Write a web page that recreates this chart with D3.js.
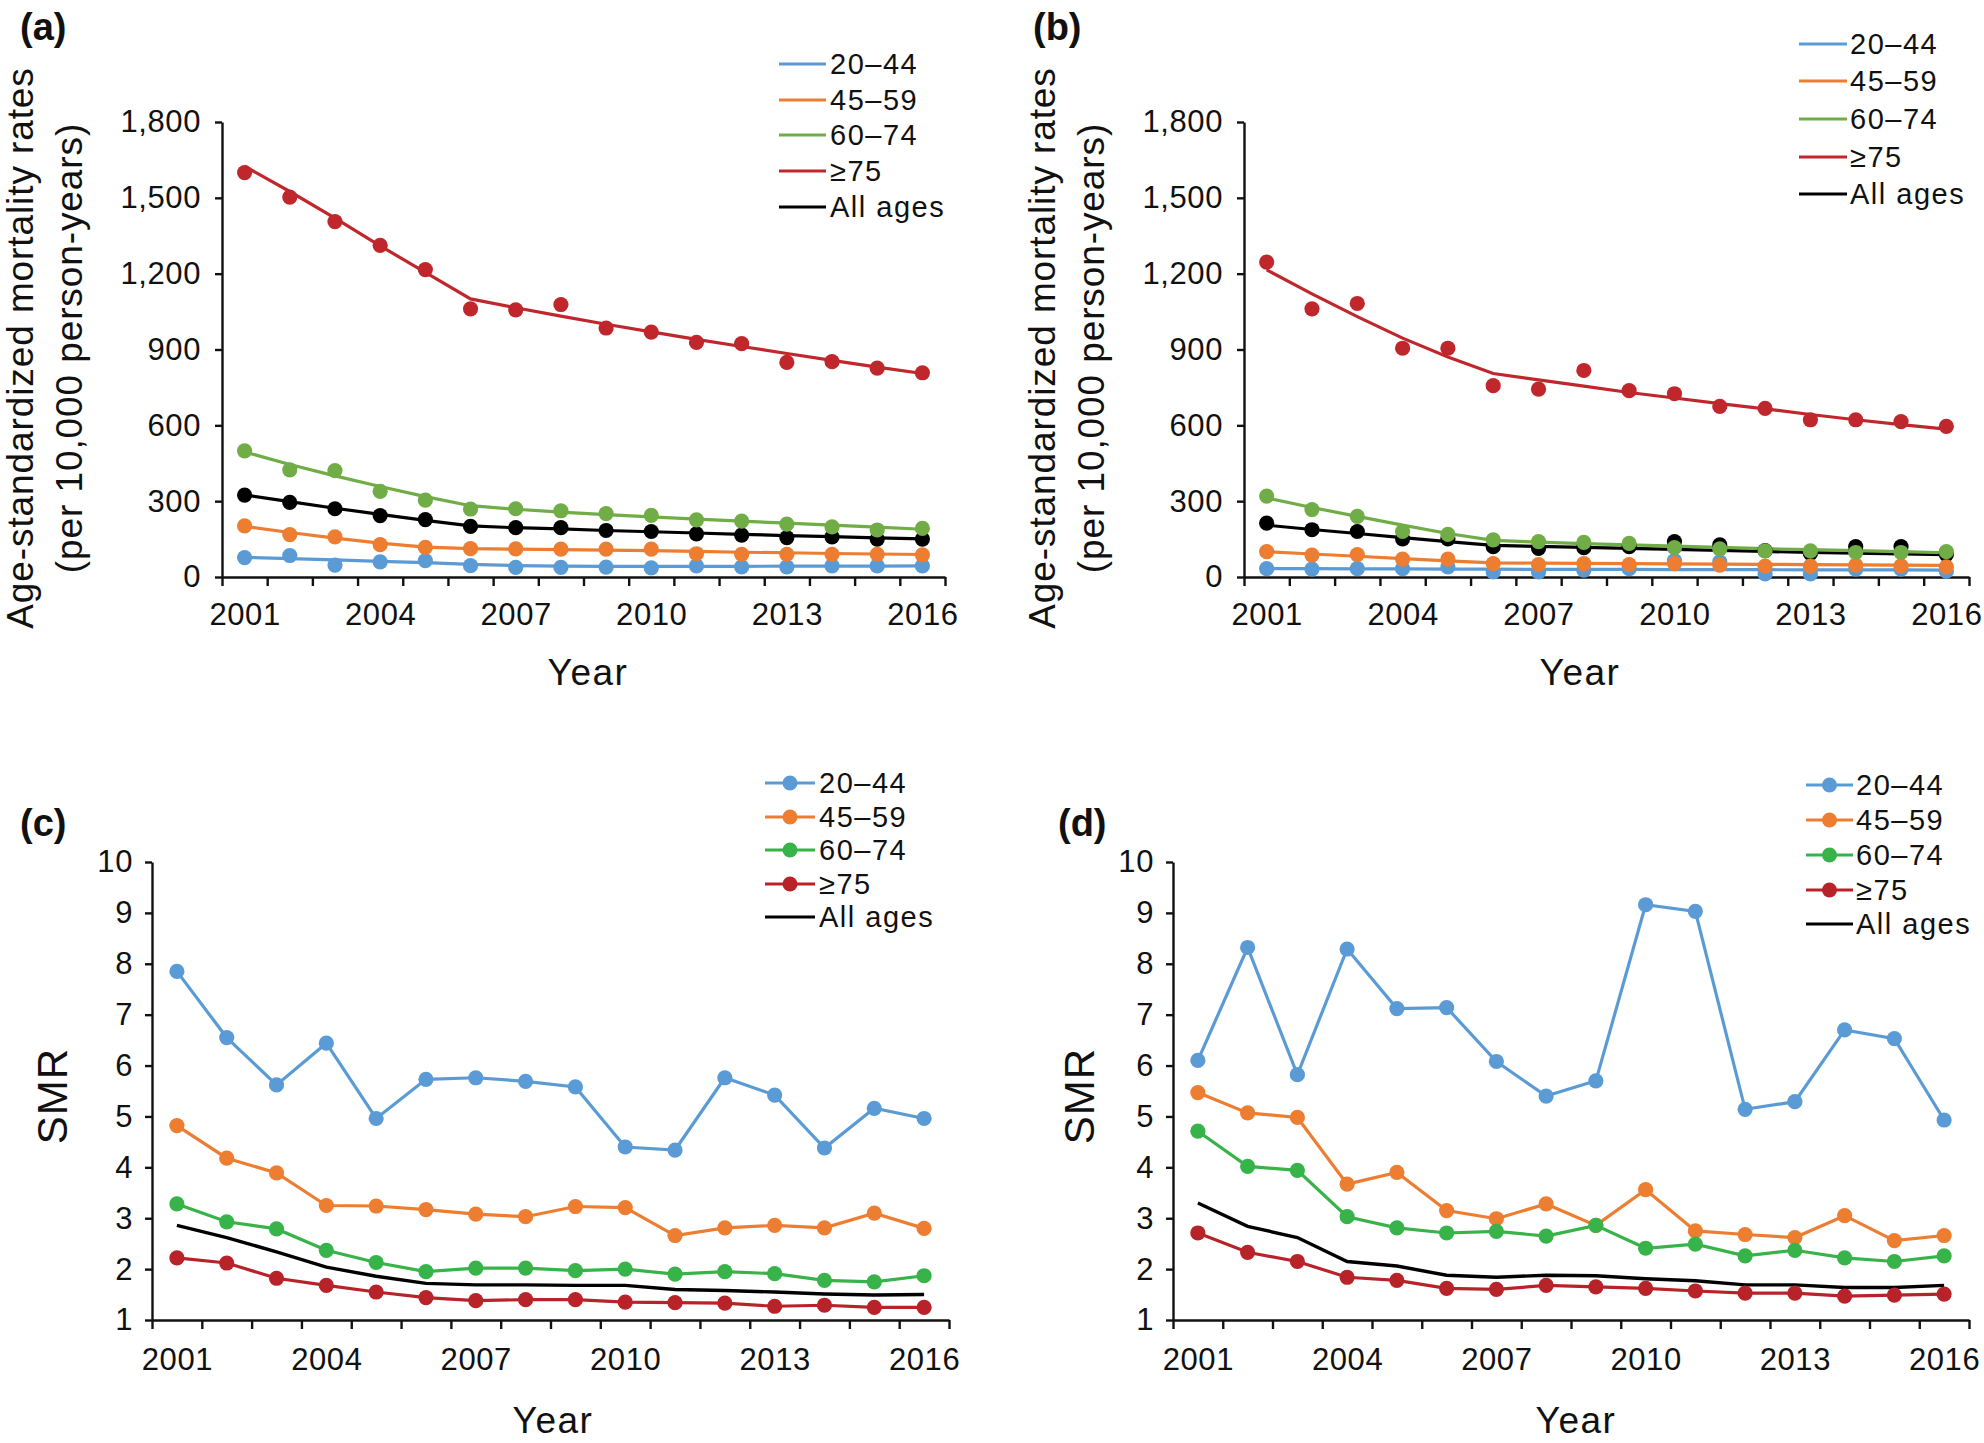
<!DOCTYPE html>
<html><head><meta charset="utf-8">
<script src="https://cdn.jsdelivr.net/npm/d3@7/dist/d3.min.js"></script>
<style>
html,body{margin:0;padding:0;background:#fff;}
svg text{font-family:"Liberation Sans",Arial,Helvetica,sans-serif;fill:#111;}
</style></head>
<body><svg id="c" width="1984" height="1443"></svg>
<script>
// ---------- data ----------
const years = [2001,2002,2003,2004,2005,2006,2007,2008,2009,2010,2011,2012,2013,2014,2015,2016];
const yearLabels = [2001,2004,2007,2010,2013,2016];
const seriesNames = ["20\u201344","45\u201359","60\u201374","\u226575","All ages"];
const rateTicks = [0,300,600,900,1200,1500,1800];
const smrTicks = [1,2,3,4,5,6,7,8,9,10];

// Panel (a): observed rates (dots) and fitted trends (lines)
const aDots2044 = [77,85,47,60,65,45,38,38,39,36,44,40,40,44,44,44];
const aFit2044  = [78,73,68,62,57,50,45,43,42,42,42,42,43,43,43,44];
const aDots4559 = [202,168,159,128,117,112,111,110,110,110,92,90,90,90,90,88];
const aFit4559  = [200,176,154,134,118,112,110,108,106,104,101,98,96,93,91,89];
const aDots6074 = [499,424,421,339,304,269,270,262,251,244,226,221,209,198,186,192];
const aFit6074  = [495,445,400,358,318,282,268,257,247,238,229,221,213,205,197,189];
const aDots75   = [1600,1503,1406,1312,1216,1061,1057,1078,985,969,928,923,849,852,826,808];
const aFit75    = [1625,1525,1420,1310,1205,1100,1065,1032,1000,970,940,912,884,857,830,805];
const aDotsAll  = [324,295,270,243,227,200,195,195,184,180,171,166,156,159,150,150];
const aFitAll   = [325,298,272,248,224,202,195,190,184,179,174,169,164,160,155,151];

// Panel (b)
const bDots2044 = [33,31,33,33,40,20,20,27,33,65,60,12,12,31,31,23];
const bFit2044  = [33,33,32,32,31,31,30,30,30,29,29,29,28,28,28,27];
const bDots4559 = [100,87,89,71,71,53,49,53,49,53,47,43,43,47,44,40];
const bFit4559  = [100,91,82,73,64,56,55,54,53,52,51,50,49,48,47,46];
const bDots6074 = [320,267,240,180,169,147,140,137,133,116,111,103,103,97,97,100];
const bFit6074  = [313,275,240,205,172,145,138,132,127,122,117,112,108,104,100,96];
const bDots75   = [1246,1061,1082,905,905,757,743,817,737,725,675,667,622,622,615,596];
const bFit75    = [1215,1120,1030,945,870,805,780,755,730,708,686,665,643,622,603,585];
const bDotsAll  = [213,187,180,151,151,120,113,116,120,140,127,104,93,120,120,89];
const bFitAll   = [205,188,172,156,140,125,121,117,113,109,105,101,97,94,91,88];

// Panel (c): SMR
const c2044 = [7.85,6.55,5.62,6.44,4.96,5.73,5.76,5.69,5.58,4.40,4.34,5.76,5.42,4.38,5.16,4.96];
const c4559 = [4.82,4.18,3.89,3.25,3.24,3.17,3.08,3.03,3.23,3.21,2.66,2.81,2.86,2.81,3.10,2.80];
const c6074 = [3.28,2.93,2.79,2.37,2.13,1.95,2.02,2.02,1.97,2.00,1.90,1.95,1.91,1.78,1.75,1.87];
const c75   = [2.22,2.12,1.82,1.68,1.55,1.44,1.38,1.40,1.40,1.35,1.34,1.33,1.27,1.29,1.25,1.25];
const cAll  = [2.86,2.62,2.34,2.04,1.86,1.72,1.69,1.69,1.68,1.68,1.60,1.58,1.55,1.51,1.49,1.50];

// Panel (d): SMR
const d2044 = [6.10,8.32,5.82,8.29,7.12,7.14,6.08,5.40,5.70,9.16,9.03,5.14,5.29,6.70,6.53,4.93];
const d4559 = [5.47,5.07,4.98,3.67,3.90,3.15,2.99,3.28,2.86,3.56,2.75,2.68,2.62,3.05,2.56,2.66];
const d6074 = [4.71,4.02,3.94,3.03,2.81,2.71,2.74,2.65,2.86,2.41,2.49,2.26,2.37,2.22,2.15,2.26];
const d75   = [2.71,2.33,2.15,1.84,1.78,1.62,1.60,1.68,1.65,1.62,1.57,1.53,1.53,1.47,1.49,1.51];
const dAll  = [3.30,2.84,2.62,2.15,2.06,1.88,1.84,1.88,1.87,1.81,1.77,1.69,1.69,1.64,1.64,1.68];

// ---------- styling ----------
const colTop = ["#5b9bd5","#ed7d31","#70ad47","#c0272d","#000000"];
const colBot = ["#5b9bd5","#ed7d31","#37b34a","#b8232a","#000000"];

const svg = d3.select("#c");
svg.append("rect").attr("width",1984).attr("height",1443).attr("fill","#fff");

function axes(g, x, y, yTicks, yFmt, p){
  const bounds = years.map(v=>v-0.5).concat([years[years.length-1]+0.5]);
  const gx = g.append("g").attr("transform",`translate(0,${p.y0})`)
    .call(d3.axisBottom(x).tickValues(bounds).tickFormat("").tickSize(9).tickSizeOuter(0));
  const gl = g.append("g").attr("transform",`translate(0,${p.y0})`)
    .call(d3.axisBottom(x).tickValues(yearLabels).tickFormat(d3.format("d")).tickSize(0).tickPadding(p.xLabPad));
  gl.select(".domain").remove();
  const gy = g.append("g").attr("transform",`translate(${p.x0},0)`)
    .call(d3.axisLeft(y).tickValues(yTicks).tickFormat(yFmt).tickSize(7).tickSizeOuter(0).tickPadding(p.yLabPad));
  [gx,gl,gy].forEach(a=>{
    a.selectAll("path,line").attr("stroke","#111").attr("stroke-width",2.4);
    a.selectAll("text").attr("font-size",31).attr("font-family","Liberation Sans, Arial, sans-serif").attr("fill","#111").attr("letter-spacing",0.6);
  });
  gl.selectAll("text").attr("dy",null).attr("y",p.xLabBase);
}

function panelLabel(txt,x,y){
  svg.append("text").attr("x",x).attr("y",y).text(txt)
    .attr("font-size",38).attr("font-weight","bold").attr("font-family","Open Sans, Liberation Sans, sans-serif");
}

function legend(cfg, cols, withDots){
  const g = svg.append("g");
  seriesNames.forEach((n,i)=>{
    const yy = cfg.rows[i];
    g.append("line").attr("x1",cfg.lx0).attr("x2",cfg.lx1).attr("y1",yy).attr("y2",yy)
      .attr("stroke",cols[i]).attr("stroke-width",3.2);
    if(withDots && i<4){
      g.append("circle").attr("cx",(cfg.lx0+cfg.lx1)/2).attr("cy",yy).attr("r",7.5).attr("fill",cols[i]);
    }
    g.append("text").attr("x",cfg.tx).attr("y",yy+10).text(n)
      .attr("font-size",29).attr("letter-spacing",1.5);
  });
}

function xTitle(txt,x,y){
  svg.append("text").attr("x",x).attr("y",y).attr("text-anchor","middle").text(txt)
    .attr("font-size",37).attr("letter-spacing",1.5);
}

// ---------- panels (a) and (b) ----------
function ratePanel(p, dots, fits, label){
  const x = d3.scaleLinear().domain([2000.5,2016.5]).range([p.x0,p.x1]);
  const y = d3.scaleLinear().domain([0,1800]).range([p.y0,p.y1]);
  const g = svg.append("g");
  axes(g,x,y,rateTicks,d3.format(","),p);
  const line = d3.line().x((d,i)=>x(years[i])).y(d=>y(d));
  const order = [4,0,1,2,3];
  order.forEach(k=>{
    g.append("path").datum(fits[k]).attr("d",line).attr("fill","none")
      .attr("stroke",colTop[k]).attr("stroke-width",3.2);
  });
  order.forEach(k=>{
    g.append("g").selectAll("circle").data(dots[k]).join("circle")
      .attr("cx",(d,i)=>x(years[i])).attr("cy",d=>y(d)).attr("r",7.6).attr("fill",colTop[k]);
  });
  panelLabel(label,p.lab[0],p.lab[1]);
  const t = svg.append("g");
  [["Age-standardized mortality rates",p.yt1],["(per 10,000 person-years)",p.yt2]].forEach(([s,bx])=>{
    t.append("text").attr("transform",`translate(${bx},348) rotate(-90)`).attr("text-anchor","middle")
      .text(s).attr("font-size",37).attr("letter-spacing",0.9);
  });
  xTitle("Year",p.xt,685);
  legend(p.leg,colTop,false);
}

ratePanel({x0:222,x1:945,y0:577,y1:122,xLabPad:0,xLabBase:48,yLabPad:14,lab:[20,40],yt1:33,yt2:82,xt:588,
  leg:{lx0:779,lx1:826,tx:830,rows:[64,100,135,171,207]}},
  [aDots2044,aDots4559,aDots6074,aDots75,aDotsAll],[aFit2044,aFit4559,aFit6074,aFit75,aFitAll],"(a)");
ratePanel({x0:1244,x1:1969,y0:577,y1:122,xLabPad:0,xLabBase:48,yLabPad:14,lab:[1033,40],yt1:1055,yt2:1104,xt:1580,
  leg:{lx0:1799,lx1:1847,tx:1850,rows:[44,81,119,157,194]}},
  [bDots2044,bDots4559,bDots6074,bDots75,bDotsAll],[bFit2044,bFit4559,bFit6074,bFit75,bFitAll],"(b)");

// ---------- panels (c) and (d) ----------
function smrPanel(p, vals, label){
  const x = d3.scaleLinear().domain([2000.5,2016.5]).range([p.x0,p.x1]);
  const y = d3.scaleLinear().domain([1,10]).range([p.y0,p.y1]);
  const g = svg.append("g");
  axes(g,x,y,smrTicks,d3.format("d"),p);
  const line = d3.line().x((d,i)=>x(years[i])).y(d=>y(d));
  g.append("path").datum(vals[4]).attr("d",line).attr("fill","none").attr("stroke","#000").attr("stroke-width",3.4);
  [0,1,2,3].forEach(k=>{
    g.append("path").datum(vals[k]).attr("d",line).attr("fill","none")
      .attr("stroke",colBot[k]).attr("stroke-width",3.2);
    g.append("g").selectAll("circle").data(vals[k]).join("circle")
      .attr("cx",(d,i)=>x(years[i])).attr("cy",d=>y(d)).attr("r",7.6).attr("fill",colBot[k]);
  });
  panelLabel(label,p.lab[0],p.lab[1]);
  svg.append("text").attr("transform",`translate(${p.smr},1096) rotate(-90)`).attr("text-anchor","middle")
    .text("SMR").attr("font-size",42).attr("letter-spacing",1);
  xTitle("Year",p.xt,1433);
  legend(p.leg,colBot,true);
}

smrPanel({x0:152,x1:949,y0:1320,y1:862,xLabPad:0,xLabBase:50,yLabPad:12,lab:[20,836],smr:67,xt:553,
  leg:{lx0:765,lx1:815,tx:819,rows:[783,817,850,884,917]}},
  [c2044,c4559,c6074,c75,cAll],"(c)");
smrPanel({x0:1173,x1:1969,y0:1320,y1:862,xLabPad:0,xLabBase:50,yLabPad:12,lab:[1058,836],smr:1094,xt:1576,
  leg:{lx0:1806,lx1:1853,tx:1856,rows:[785,820,855,890,924]}},
  [d2044,d4559,d6074,d75,dAll],"(d)");
</script>
</body></html>
